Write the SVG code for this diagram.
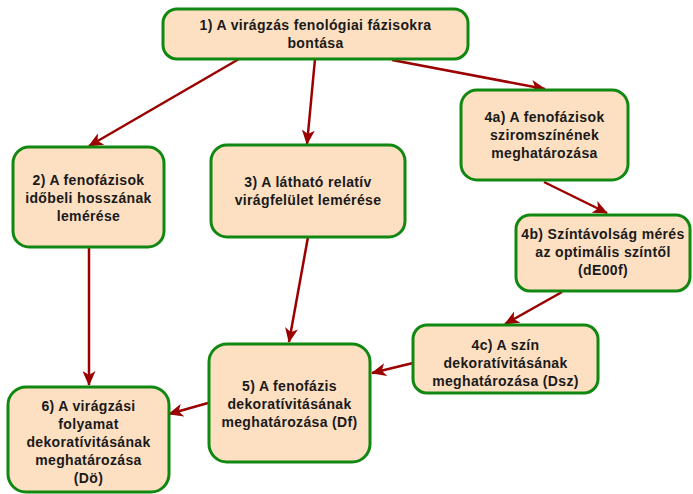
<svg xmlns="http://www.w3.org/2000/svg" width="693" height="494" viewBox="0 0 693 494">
<style>
.box{fill:#fddfc1;stroke:#118811;stroke-width:3}
.t{font-family:"Liberation Sans",Arial,sans-serif;font-weight:bold;font-size:14px;letter-spacing:0.35px;fill:#1a1a1a;text-anchor:middle}
.c{stroke:#9b0000;stroke-width:2.5;fill:none;marker-end:url(#ah)}
</style>
<defs>
<marker id="ah" markerUnits="userSpaceOnUse" markerWidth="15" markerHeight="13" viewBox="0 0 15 13" refX="14" refY="6.5" orient="auto">
<path d="M0,0 L15,6.5 L0,13 L4,6.5 z" fill="#9b0000"/>
</marker>
</defs>
<rect width="693" height="494" fill="#ffffff"/>
<g id="connectors">
<line class="c" x1="239" y1="59" x2="89" y2="146"/>
<line class="c" x1="315" y1="59" x2="307" y2="144"/>
<line class="c" x1="392" y1="60" x2="545" y2="89"/>
<line class="c" x1="544" y1="182" x2="607" y2="213"/>
<line class="c" x1="562" y1="292" x2="505" y2="324"/>
<line class="c" x1="308" y1="237" x2="289" y2="342"/>
<line class="c" x1="413" y1="363" x2="372" y2="373"/>
<line class="c" x1="89" y1="248" x2="89" y2="385"/>
<line class="c" x1="208" y1="403" x2="169" y2="414"/>
</g>
<g id="n1">
<rect class="box" x="163" y="9" width="305" height="50" rx="14"/>
<text class="t" x="315.5" y="29.5">1) A virágzás fenológiai fázisokra</text>
<text class="t" x="315.5" y="47.5">bontása</text>
</g>
<g id="n2">
<rect class="box" x="13" y="147" width="151" height="100" rx="16"/>
<text class="t" x="88.5" y="185">2) A fenofázisok</text>
<text class="t" x="88.5" y="203">időbeli hosszának</text>
<text class="t" x="88.5" y="221">lemérése</text>
</g>
<g id="n3">
<rect class="box" x="211" y="145" width="194" height="92" rx="16"/>
<text class="t" x="308" y="187">3) A látható relatív</text>
<text class="t" x="308" y="205">virágfelület lemérése</text>
</g>
<g id="n4a">
<rect class="box" x="461" y="90" width="167" height="90" rx="16"/>
<text class="t" x="544.5" y="122">4a) A fenofázisok</text>
<text class="t" x="544.5" y="140">sziromszínének</text>
<text class="t" x="544.5" y="158">meghatározása</text>
</g>
<g id="n4b">
<rect class="box" x="516" y="215" width="174" height="76" rx="14"/>
<text class="t" x="603" y="239">4b) Színtávolság mérés</text>
<text class="t" x="603" y="257">az optimális színtől</text>
<text class="t" x="603" y="275">(dE00f)</text>
</g>
<g id="n4c">
<rect class="box" x="413" y="325" width="185" height="68" rx="14"/>
<text class="t" x="505.5" y="350">4c) A szín</text>
<text class="t" x="505.5" y="368">dekoratívitásának</text>
<text class="t" x="505.5" y="386">meghatározása (Dsz)</text>
</g>
<g id="n5">
<rect class="box" x="209" y="344" width="161" height="118" rx="18"/>
<text class="t" x="289.5" y="391">5) A fenofázis</text>
<text class="t" x="289.5" y="409">dekoratívitásának</text>
<text class="t" x="289.5" y="427">meghatározása (Df)</text>
</g>
<g id="n6">
<rect class="box" x="8" y="387" width="161" height="105" rx="18"/>
<text class="t" x="88.5" y="411">6) A virágzási</text>
<text class="t" x="88.5" y="429">folyamat</text>
<text class="t" x="88.5" y="447">dekoratívitásának</text>
<text class="t" x="88.5" y="465">meghatározása</text>
<text class="t" x="88.5" y="483">(Dö)</text>
</g>
</svg>
